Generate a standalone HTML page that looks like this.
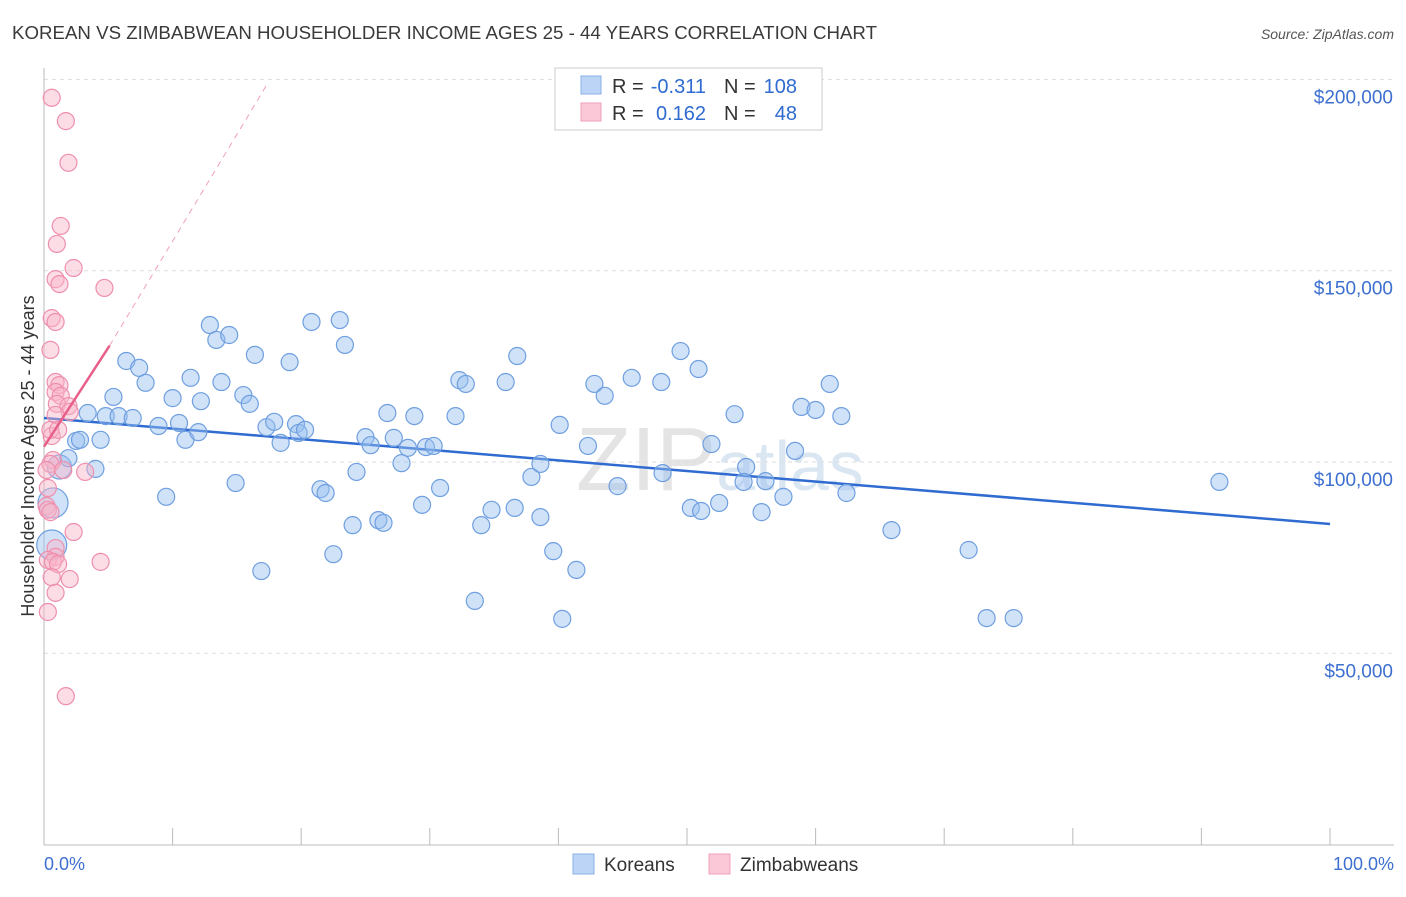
<!DOCTYPE html>
<html><head><meta charset="utf-8"><style>
body{margin:0;background:#fff;font-family:"Liberation Sans",sans-serif;}
svg text{font-family:"Liberation Sans",sans-serif;}
</style></head><body>
<svg id="chart" width="1406" height="892">
<text x="12" y="39" font-size="18.7" fill="#3a3a3a">KOREAN VS ZIMBABWEAN HOUSEHOLDER INCOME AGES 25 - 44 YEARS CORRELATION CHART</text>
<text x="1394" y="39" font-size="14" fill="#555" text-anchor="end" font-style="italic">Source: ZipAtlas.com</text>
<text x="720" y="490" font-size="90" fill="#e4e4e4" text-anchor="middle" font-family="Liberation Serif">ZIP<tspan font-family="Liberation Sans" fill="#dbe6f3" font-size="70">atlas</tspan></text>
<text transform="translate(34,456) rotate(-90)" font-size="18" fill="#333" text-anchor="middle">Householder Income Ages 25 - 44 years</text>
<g id="grid"></g><g id="axes"></g><g id="trend"></g><g id="pts"></g>
<g>
<rect x="555" y="68" width="267" height="62" fill="#fff" stroke="#ccc"/>
<rect x="581" y="76" width="20" height="18" fill="#bcd4f5" stroke="#8ab0e8"/>
<rect x="581" y="103" width="20" height="18" fill="#fbc8d8" stroke="#f0a0ba"/>
<text x="612" y="93" font-size="20" fill="#333">R =</text>
<text x="706" y="93" font-size="20" fill="#2f6bd0" text-anchor="end">-0.311</text>
<text x="724" y="93" font-size="20" fill="#333">N =</text>
<text x="797" y="93" font-size="20" fill="#2f6bd0" text-anchor="end">108</text>
<text x="612" y="120" font-size="20" fill="#333">R =</text>
<text x="706" y="120" font-size="20" fill="#2f6bd0" text-anchor="end">0.162</text>
<text x="724" y="120" font-size="20" fill="#333">N =</text>
<text x="797" y="120" font-size="20" fill="#2f6bd0" text-anchor="end">48</text>
</g>
<g>
<rect x="573" y="854" width="21" height="20" fill="#bcd4f5" stroke="#8ab0e8"/>
<text x="604" y="871" font-size="19" fill="#333">Koreans</text>
<rect x="709" y="854" width="21" height="20" fill="#fbc8d8" stroke="#f0a0ba"/>
<text x="740" y="871" font-size="19" fill="#333">Zimbabweans</text>
</g>
<text x="44" y="870" font-size="18" fill="#3d6fd0">0.0%</text>
<text x="1394" y="870" font-size="18" fill="#3d6fd0" text-anchor="end">100.0%</text>
</svg>
<script>
const yTicks=[50000,100000,150000,200000];
const yTickLabels=["$50,000","$100,000","$150,000","$200,000"];
const koreanX=[0.7,0.6,1.2,1.9,2.5,2.8,3.4,4.0,4.4,4.8,5.4,5.8,6.4,6.9,7.4,7.9,8.9,9.5,10.0,10.5,11.0,11.4,12.0,12.2,12.9,13.4,13.8,14.4,14.9,15.5,16.0,16.4,16.9,17.3,17.9,18.4,19.1,19.6,19.8,20.3,20.8,21.5,21.9,22.5,23.0,23.4,24.0,24.3,25.0,25.4,26.0,26.4,26.7,27.2,27.8,28.3,28.8,29.4,29.7,30.3,30.8,32.0,32.3,32.8,33.5,34.0,34.8,35.9,36.6,36.8,37.9,38.6,38.6,39.6,40.1,40.3,41.4,42.3,42.8,43.6,44.6,45.7,48.0,48.1,49.5,50.3,50.9,51.1,51.9,52.5,53.7,54.6,54.4,55.8,56.1,57.5,58.4,58.9,60.0,61.1,62.0,62.4,65.9,71.9,73.3,75.4,91.4];
const koreanY=[89300,78300,98700,101000,105500,105800,112800,98200,105800,112000,117000,112000,126400,111500,124600,120700,109400,90900,116700,110200,105800,122000,107800,115900,135800,131900,120900,133200,94500,117500,115200,128000,71500,109100,110500,105000,126100,109900,107600,108400,136600,92900,91900,75900,137100,130600,83500,97400,106500,104400,84800,84100,112800,106300,99700,103700,112000,88800,103900,104200,93200,112000,121400,120400,63700,83500,87500,120900,88000,127700,96100,85600,99500,76700,109700,59000,71800,104200,120400,117300,93700,122000,120900,97100,129000,88000,124300,87200,104700,89300,112500,98700,94800,86900,95000,90900,102900,114400,113600,120400,112000,91900,82200,77000,59200,59200,94800];
const zimX=[0.6,1.7,1.9,1.3,1.0,2.3,0.9,1.2,4.7,0.6,0.9,0.5,0.9,1.2,0.9,1.3,1.0,1.9,2.0,0.9,0.6,0.7,0.5,1.5,3.2,0.3,0.2,0.3,0.5,2.3,0.9,0.9,0.3,0.7,1.1,4.4,2.0,0.6,0.9,0.3,1.7,0.5,1.1,0.2];
const zimY=[195200,189100,178200,161700,157000,150700,147800,146500,145500,137600,136600,129300,120900,120100,118300,117300,115200,114600,113100,112300,106800,100500,99500,97900,97400,93200,88500,87500,86900,81700,77500,75200,74400,73900,73300,73900,69400,69900,65800,60800,38800,108400,108400,97900];
const koreanTrend=[[0,111500],[100,83800]];
const zimTrendSolid=[[0,104000],[5.1,130400]];
const zimTrendDash=[[5.1,130400],[17.4,199000]];
const X=v=>44+v*12.86;
const Y=v=>462-(v-100000)*191.3/50000;
const NS="http://www.w3.org/2000/svg";
function mk(tag,parent,attrs){const e=document.createElementNS(NS,tag);for(const k in attrs)e.setAttribute(k,attrs[k]);parent.appendChild(e);return e;}
const grid=document.getElementById('grid'),axes=document.getElementById('axes'),tr=document.getElementById('trend'),pts=document.getElementById('pts');
yTicks.forEach((t,i)=>{
 const l=mk('line',grid,{x1:44,x2:1394,y1:Y(t),y2:Y(t),stroke:'#ddd','stroke-dasharray':'4,4'});
 
 
 const tx=mk('text',grid,{x:1393,y:Y(t)+24,'font-size':19,fill:'#3d6fd0','text-anchor':'end'});
 tx.textContent=yTickLabels[i];
 
 
});
const ya=mk('line',axes,{x1:44,x2:44,y1:68,y2:845,stroke:'#bbb'});


const xa=mk('line',axes,{x1:44,x2:1394,y1:845,y2:845,stroke:'#bbb'});


for(let i=0;i<=10;i++){const t=mk('line',axes,{x1:X(i*10),x2:X(i*10),y1:828,y2:845,stroke:'#bbb'});
 
 }
koreanX.forEach((x,i)=>{
 const r=i<2?15:(i==2?12:8.5);
 const c=mk('circle',pts,{cx:X(x),cy:Y(koreanY[i]),r:r,fill:'rgba(150,190,240,0.45)',stroke:'#6f9fe0','stroke-width':1.2});
 
 
});
zimX.forEach((x,i)=>{
 const c=mk('circle',pts,{cx:X(x),cy:Y(zimY[i]),r:8.5,fill:'rgba(248,180,200,0.45)',stroke:'#ee8fae','stroke-width':1.2});
 
 
});
const kt=mk('line',tr,{x1:X(koreanTrend[0][0]),y1:Y(koreanTrend[0][1]),x2:X(koreanTrend[1][0]),y2:Y(koreanTrend[1][1]),stroke:'#2f6bd0','stroke-width':2.5});


const zs=mk('line',pts,{x1:X(zimTrendSolid[0][0]),y1:Y(zimTrendSolid[0][1]),x2:X(zimTrendSolid[1][0]),y2:Y(zimTrendSolid[1][1]),stroke:'#e8608a','stroke-width':2.5});


const zd=mk('line',tr,{x1:X(zimTrendDash[0][0]),y1:Y(zimTrendDash[0][1]),x2:X(zimTrendDash[1][0]),y2:Y(zimTrendDash[1][1]),stroke:'#f0a0ba','stroke-width':1,'stroke-dasharray':'6,5'});


</script>
</body></html>
